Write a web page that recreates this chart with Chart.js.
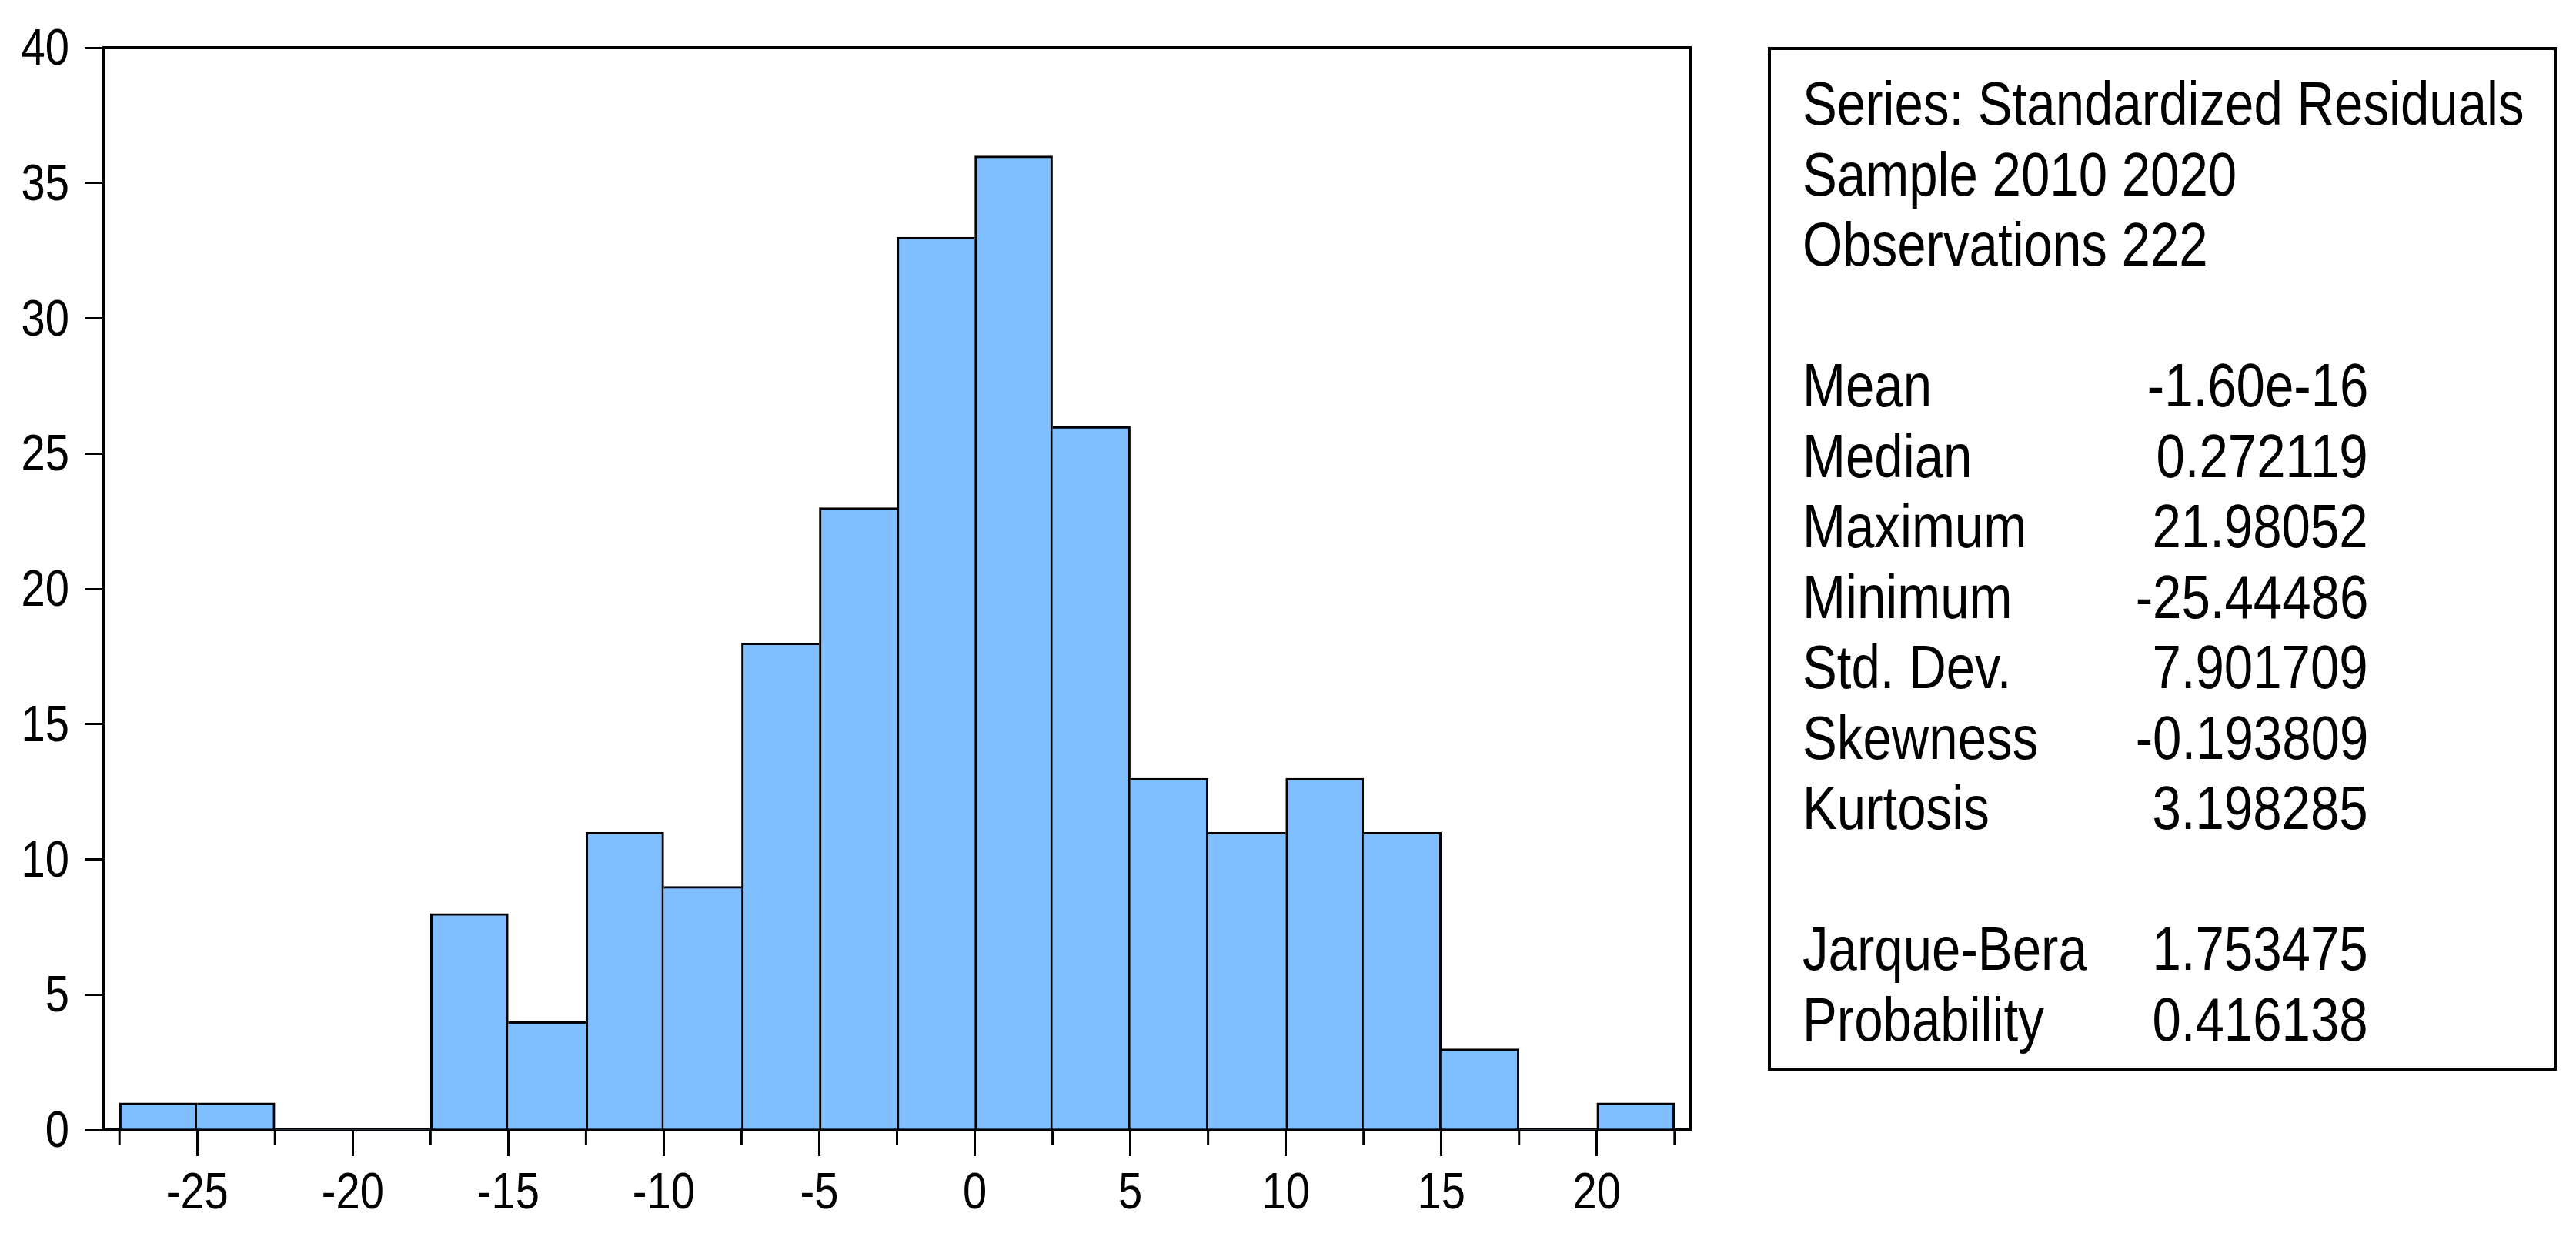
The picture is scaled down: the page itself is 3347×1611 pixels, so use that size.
<!DOCTYPE html>
<html>
<head>
<meta charset="utf-8">
<script src="https://cdn.jsdelivr.net/npm/chart.js@4.4.1/dist/chart.umd.min.js"></script>
<style>
    html, body { margin: 0; padding: 0; background: #fff; }
    #wrap { position: relative; width: 3347px; height: 1611px; overflow: hidden; }
    #histChart { position: absolute; left: 0; top: 0; }
    #statsBox {
        position: absolute; left: 2297px; top: 61px; width: 1017px; height: 1322px;
        border: 4px solid #000; box-sizing: content-box;
        font-family: "Liberation Sans", Arial, sans-serif;
        font-size: 80px; color: #000;
    }
    #statsBox .line {
        position: absolute; left: 41px; height: 91.5px; line-height: 91.5px; white-space: nowrap;
        transform: scaleX(0.84); transform-origin: left center;
    }
    #statsBox .val {
        position: absolute; right: 241px; height: 91.5px; line-height: 91.5px; white-space: nowrap;
        text-align: right; transform: scaleX(0.84); transform-origin: right center;
    }
</style>
</head>
<body>
<div id="wrap">
    <canvas id="histChart" width="3347" height="1611"></canvas>
    <div id="statsBox"></div>
</div>
<script>
// histogram bins (left edge of each 2.5 wide bin) and counts
const binLeft = [-27.5, -25, -22.5, -20, -17.5, -15, -12.5, -10, -7.5, -5, -2.5, 0, 2.5, 5, 7.5, 10, 12.5, 15, 17.5, 20];
const binCounts = [1, 1, 0, 0, 8, 4, 11, 9, 18, 23, 33, 36, 26, 13, 11, 13, 11, 3, 0, 1];
const binWidth = 2.5;

// x axis tick positions (bin edges) and y ticks
const xTickValues = [-27.5, -25, -22.5, -20, -17.5, -15, -12.5, -10, -7.5, -5, -2.5, 0, 2.5, 5, 7.5, 10, 12.5, 15, 17.5, 20, 22.5];
const yTickStep = 5;

// stats panel text
const headerLines = ["Series: Standardized Residuals", "Sample 2010 2020", "Observations 222"];
const statLabels = ["Mean", "Median", "Maximum", "Minimum", "Std. Dev.", "Skewness", "Kurtosis"];
const statValues = ["-1.60e-16", "0.272119", "21.98052", "-25.44486", "7.901709", "-0.193809", "3.198285"];
const testLabels = ["Jarque-Bera", "Probability"];
const testValues = ["1.753475", "0.416138"];

const FONT = "'Liberation Sans', Arial, sans-serif";
const SQUEEZE = 0.85; // the original uses a narrow Arial

// build the stats box
const box = document.getElementById("statsBox");
const rows = [];
headerLines.forEach(t => rows.push([t, null]));
rows.push(null);
statLabels.forEach((t, i) => rows.push([t, statValues[i]]));
rows.push(null);
testLabels.forEach((t, i) => rows.push([t, testValues[i]]));
const lineH = 91.5, firstTop = 135 - 61 - 4 - lineH / 2;
rows.forEach((r, i) => {
    if (!r) return;
    const top = firstTop + i * lineH;
    const l = document.createElement("div");
    l.className = "line"; l.style.top = top + "px"; l.textContent = r[0];
    box.appendChild(l);
    if (r[1] !== null) {
        const v = document.createElement("div");
        v.className = "val"; v.style.top = top + "px"; v.textContent = r[1];
        box.appendChild(v);
    }
});

// frame, minor x ticks and the narrow tick labels
const framePlugin = {
    id: "frame",
    afterDraw(chart) {
        const { ctx, chartArea } = chart;
        const xs = chart.scales.x, ys = chart.scales.y;
        ctx.save();
        ctx.strokeStyle = "#000";
        ctx.lineWidth = 4;
        ctx.beginPath();
        ctx.moveTo(chartArea.left - 2, chartArea.top);
        ctx.lineTo(chartArea.right, chartArea.top);
        ctx.lineTo(chartArea.right, chartArea.bottom + 2);
        ctx.stroke();
        ctx.lineWidth = 3;
        xTickValues.forEach(v => {
            if (v % 5 === 0) return;
            const px = xs.getPixelForValue(v);
            ctx.beginPath();
            ctx.moveTo(px, chartArea.bottom);
            ctx.lineTo(px, chartArea.bottom + 20);
            ctx.stroke();
        });

        ctx.fillStyle = "#000";
        ctx.font = "66px " + FONT;
        ctx.textBaseline = "alphabetic";
        ys.ticks.forEach(t => {
            const py = ys.getPixelForValue(t.value);
            ctx.save();
            ctx.translate(chartArea.left - 45, py + 22);
            ctx.scale(SQUEEZE, 1);
            ctx.textAlign = "right";
            ctx.fillText(String(t.value), 0, 0);
            ctx.restore();
        });
        xTickValues.forEach(v => {
            if (v % 5 !== 0) return;
            const px = xs.getPixelForValue(v);
            ctx.save();
            ctx.translate(px, chartArea.bottom + 102);
            ctx.scale(SQUEEZE, 1);
            ctx.textAlign = "center";
            ctx.fillText(String(v), 0, 0);
            ctx.restore();
        });
        ctx.restore();
    }
};

const countAt = i => (i < 0 || i >= binCounts.length) ? 0 : binCounts[i];

new Chart(document.getElementById("histChart"), {
    type: "bar",
    data: {
        datasets: [{
            data: binLeft.map((x, i) => ({ x: x + binWidth / 2, y: binCounts[i] })),
            backgroundColor: "#80BFFF",
            borderColor: "#000",
            borderWidth: ctx => {
                const i = ctx.dataIndex, c = countAt(i);
                if (c === 0) return 0;
                return {
                    top: 3,
                    left: c > countAt(i - 1) ? 3 : 0,
                    right: c >= countAt(i + 1) ? 3 : 0,
                    bottom: 0
                };
            },
            borderSkipped: "start",
            barPercentage: 1,
            categoryPercentage: 1
        }]
    },
    options: {
        responsive: false,
        devicePixelRatio: 1,
        animation: false,
        layout: { padding: { top: 62, right: 1151, left: 0, bottom: 0 } },
        plugins: { legend: { display: false }, tooltip: { enabled: false } },
        scales: {
            x: {
                type: "linear",
                offset: false,
                min: -28,
                max: 23,
                afterBuildTicks: scale => { scale.ticks = xTickValues.map(v => ({ value: v })); },
                afterFit: scale => { scale.height = 1611 - 1468; },
                ticks: { display: false, autoSkip: false },
                grid: {
                    drawOnChartArea: false,
                    offset: false,
                    tickLength: 34,
                    lineWidth: 3,
                    tickColor: ctx => (ctx.tick && ctx.tick.value % 5 === 0 ? "#000" : "rgba(0,0,0,0)")
                },
                border: { display: true, color: "#000", width: 4 }
            },
            y: {
                min: 0,
                max: 40,
                afterFit: scale => { scale.width = 135; },
                ticks: { display: false, stepSize: yTickStep },
                grid: { drawOnChartArea: false, tickLength: 25, lineWidth: 3, color: "#000" },
                border: { display: true, color: "#000", width: 4 }
            }
        }
    },
    plugins: [framePlugin]
});
</script>
</body>
</html>
